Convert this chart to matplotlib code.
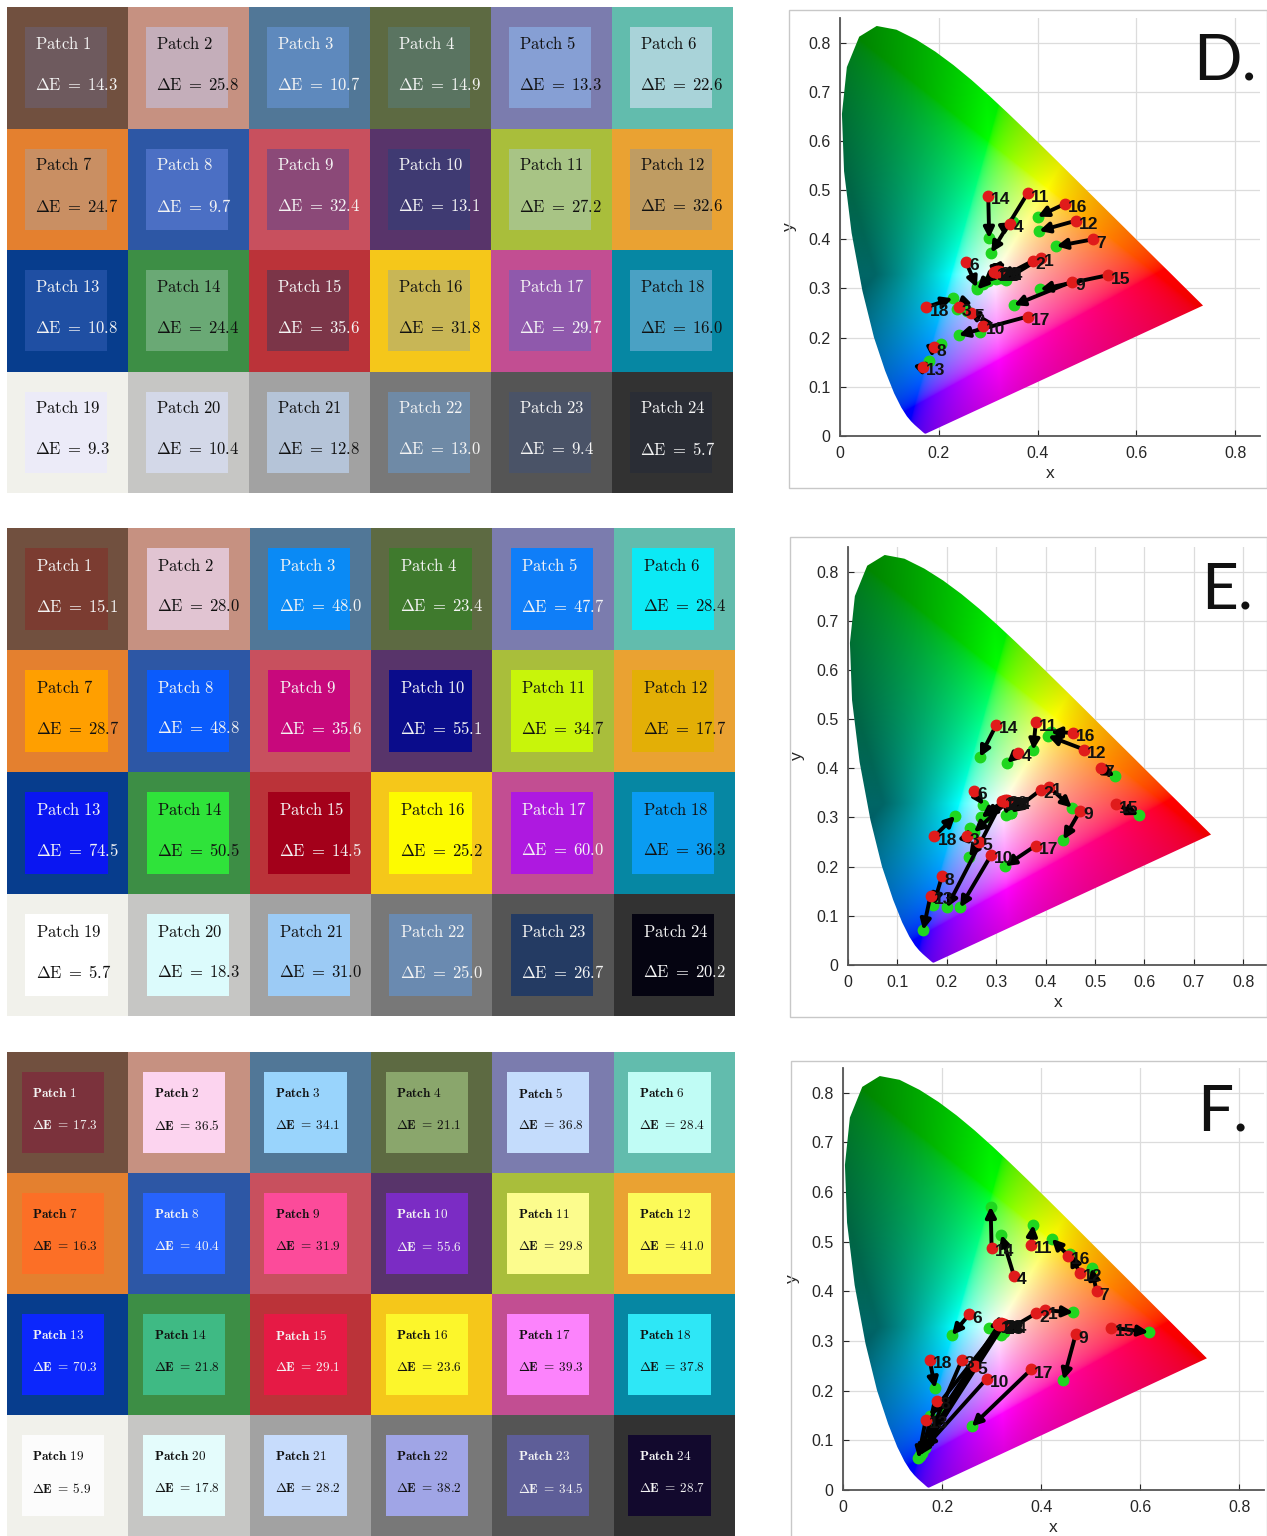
import numpy as np
import matplotlib
matplotlib.use('Agg')
import matplotlib.pyplot as plt
from matplotlib.patches import Rectangle, Polygon
from matplotlib.ticker import FuncFormatter

plt.rcParams['font.family'] = ['Liberation Sans', 'DejaVu Sans']
plt.rcParams['mathtext.fontset'] = 'cm'

# --- patch data -------------------------------------------------------------
patch_ids = list(range(1, 25))

outer_colors = ['#71503f', '#c69181', '#517797', '#5d6a42', '#7b7cae', '#62bcad',
                '#e4802f', '#2d57a5', '#c8505e', '#58346a', '#a9be3b', '#eaa232',
                '#073d8d', '#3d8e45', '#bb3339', '#f5c71a', '#c24e92', '#0687a3',
                '#f1f1eb', '#c6c6c4', '#a2a2a2', '#787878', '#555555', '#323232']

inner_D = ['#6e5a5e', '#c4aeba', '#5e89bd', '#5a7461', '#869fd4', '#a9d3d9',
           '#c98f63', '#4b6fc4', '#8b4978', '#3f3a72', '#a8c485', '#bf9c62',
           '#1f4fa3', '#6aa975', '#7b3548', '#c8b656', '#8f59ac', '#4aa1c4',
           '#ecebf8', '#d3d8e8', '#b5c4d8', '#6f8aa6', '#4a5367', '#2a2d35']
inner_E = ['#7b3c31', '#e1c4d2', '#0a8af5', '#3f7a2d', '#0f7ef8', '#0ce9f5',
           '#ff9f00', '#0a5bfc', '#c8087c', '#0a0c8b', '#c8f50a', '#e3af06',
           '#0a16f2', '#2fe33a', '#a3001a', '#fdfb00', '#ae19e0', '#0a9cf2',
           '#ffffff', '#dcfbfc', '#9ccbf5', '#6a8ab0', '#243b63', '#050411']
inner_F = ['#7b323c', '#fcd4ef', '#99d4fc', '#8aa66c', '#c4dcfc', '#c0fcf5',
           '#fc6f26', '#2763fc', '#fc4b9a', '#7b2cc4', '#fcfc8d', '#fcfa59',
           '#0c27fc', '#3fba84', '#e61a45', '#fcf62b', '#fc83fc', '#2ee7f6',
           '#fcfcfc', '#e4fcfc', '#c7dcfc', '#a0a5e6', '#5e5e98', '#12092d']

de_D = [14.3, 25.8, 10.7, 14.9, 13.3, 22.6, 24.7, 9.7, 32.4, 13.1, 27.2, 32.6,
        10.8, 24.4, 35.6, 31.8, 29.7, 16.0, 9.3, 10.4, 12.8, 13.0, 9.4, 5.7]
de_E = [15.1, 28.0, 48.0, 23.4, 47.7, 28.4, 28.7, 48.8, 35.6, 55.1, 34.7, 17.7,
        74.5, 50.5, 14.5, 25.2, 60.0, 36.3, 5.7, 18.3, 31.0, 25.0, 26.7, 20.2]
de_F = [17.3, 36.5, 34.1, 21.1, 36.8, 28.4, 16.3, 40.4, 31.9, 55.6, 29.8, 41.0,
        70.3, 21.8, 29.1, 23.6, 39.3, 37.8, 5.9, 17.8, 28.2, 38.2, 34.5, 28.7]

txt_D = 'wkwwkkkwwwkkwkwkwkkkkwww'
txt_E = 'wkwwwkkwwwkkwkwkwkkkkwww'
txt_F = 'wkkkkkkwkwkkwkwkkkkkkkww'

# --- chromaticity data ------------------------------------------------------
ref_x = [0.407, 0.390, 0.240, 0.345, 0.266, 0.255, 0.512, 0.190, 0.470, 0.290, 0.380, 0.478,
         0.167, 0.300, 0.542, 0.455, 0.380, 0.175, 0.312, 0.318, 0.322, 0.315, 0.320, 0.325]
ref_y = [0.362, 0.356, 0.262, 0.432, 0.250, 0.354, 0.400, 0.180, 0.314, 0.224, 0.494, 0.438,
         0.141, 0.488, 0.327, 0.472, 0.243, 0.262, 0.334, 0.336, 0.335, 0.333, 0.332, 0.334]

D_x = [0.335, 0.325, 0.236, 0.350, 0.258, 0.277, 0.438, 0.205, 0.352, 0.283, 0.306, 0.403,
       0.180, 0.302, 0.405, 0.400, 0.240, 0.228, 0.278, 0.290, 0.300, 0.315, 0.320, 0.330]
D_y = [0.318, 0.322, 0.258, 0.435, 0.254, 0.302, 0.386, 0.188, 0.266, 0.212, 0.373, 0.417,
       0.153, 0.402, 0.298, 0.446, 0.205, 0.280, 0.298, 0.310, 0.316, 0.320, 0.322, 0.325]

E_x = [0.453, 0.330, 0.246, 0.322, 0.245, 0.274, 0.540, 0.173, 0.436, 0.227, 0.375, 0.405,
       0.152, 0.267, 0.588, 0.410, 0.318, 0.217, 0.200, 0.270, 0.320, 0.280, 0.330, 0.255]
E_y = [0.320, 0.310, 0.278, 0.411, 0.220, 0.325, 0.384, 0.122, 0.255, 0.117, 0.437, 0.466,
       0.071, 0.423, 0.305, 0.474, 0.201, 0.303, 0.117, 0.300, 0.305, 0.300, 0.310, 0.270]

F_x = [0.465, 0.325, 0.170, 0.320, 0.160, 0.220, 0.502, 0.155, 0.445, 0.165, 0.384, 0.459,
       0.152, 0.298, 0.617, 0.4215, 0.260, 0.186, 0.294, 0.320, 0.175, 0.200, 0.180, 0.155]
F_y = [0.358, 0.318, 0.100, 0.514, 0.075, 0.312, 0.447, 0.068, 0.222, 0.085, 0.534, 0.475,
       0.064, 0.571, 0.318, 0.506, 0.128, 0.205, 0.327, 0.313, 0.150, 0.160, 0.120, 0.070]

# CIE 1931 spectral locus, 380-700 nm in 5 nm steps
locus_x = [0.1741, 0.1740, 0.1738, 0.1736, 0.1733, 0.1730, 0.1726, 0.1721, 0.1714, 0.1703,
           0.1689, 0.1669, 0.1644, 0.1611, 0.1566, 0.1510, 0.1440, 0.1355, 0.1241, 0.1096,
           0.0913, 0.0687, 0.0454, 0.0235, 0.0082, 0.0039, 0.0139, 0.0389, 0.0743, 0.1142,
           0.1547, 0.1929, 0.2296, 0.2658, 0.3016, 0.3373, 0.3731, 0.4087, 0.4441, 0.4788,
           0.5125, 0.5448, 0.5752, 0.6029, 0.6270, 0.6482, 0.6658, 0.6801, 0.6915, 0.7006,
           0.7079, 0.7140, 0.7190, 0.7230, 0.7260, 0.7283, 0.7300, 0.7311, 0.7320, 0.7327,
           0.7334, 0.7340, 0.7344, 0.7346, 0.7347]
locus_y = [0.0050, 0.0050, 0.0049, 0.0049, 0.0048, 0.0048, 0.0048, 0.0048, 0.0051, 0.0058,
           0.0069, 0.0086, 0.0109, 0.0138, 0.0177, 0.0227, 0.0297, 0.0399, 0.0578, 0.0868,
           0.1327, 0.2007, 0.2950, 0.4127, 0.5384, 0.6548, 0.7502, 0.8120, 0.8338, 0.8262,
           0.8059, 0.7816, 0.7543, 0.7243, 0.6923, 0.6589, 0.6245, 0.5896, 0.5547, 0.5202,
           0.4866, 0.4544, 0.4242, 0.3965, 0.3725, 0.3514, 0.3340, 0.3197, 0.3083, 0.2993,
           0.2920, 0.2859, 0.2809, 0.2770, 0.2740, 0.2717, 0.2700, 0.2689, 0.2680, 0.2673,
           0.2666, 0.2660, 0.2656, 0.2654, 0.2653]

W, H = 1267, 1536
fig = plt.figure(figsize=(W / 100, H / 100), dpi=100)


def frac(x0, y0, x1, y1):
    return [x0 / W, 1 - y1 / H, (x1 - x0) / W, (y1 - y0) / H]


def draw_grid(rect, inner, de, tcol, box, ty, fs, bold):
    ax = fig.add_axes(rect)
    ax.set_xlim(0, 6)
    ax.set_ylim(4, 0)
    ax.axis('off')
    x0, x1, y0, y1 = box
    for k, pid in enumerate(patch_ids):
        r, c = divmod(k, 6)
        ax.add_patch(Rectangle((c, r), 1, 1, facecolor=outer_colors[k], lw=0))
        ax.add_patch(Rectangle((c + x0, r + y0), x1 - x0, y1 - y0, facecolor=inner[k], lw=0))
        col = '#f4f4f4' if tcol[k] == 'w' else '#111111'
        if bold:
            s1 = r'$\mathbf{Patch\ %d}$' % pid
            s2 = r'$\mathbf{\Delta E\;=\;%.1f}$' % de[k]
        else:
            s1 = r'$\mathrm{Patch\ %d}$' % pid
            s2 = r'$\Delta\mathrm{E}\;=\;%.1f$' % de[k]
        tx = c + x0 + 0.09
        ax.text(tx, r + ty[0], s1, color=col, fontsize=fs, ha='left', va='center')
        ax.text(tx, r + ty[1], s2, color=col, fontsize=fs, ha='left', va='center')


draw_grid(frac(7, 7, 733, 493), inner_D, de_D, txt_D, (0.145, 0.825, 0.165, 0.835), (0.30, 0.64), 12, False)
draw_grid(frac(7, 528, 735, 1016), inner_E, de_E, txt_E, (0.15, 0.83, 0.165, 0.84), (0.31, 0.64), 12, False)
draw_grid(frac(7, 1052, 735, 1536), inner_F, de_F, txt_F, (0.12, 0.80, 0.165, 0.835), (0.345, 0.61), 9.5, True)

M = np.array([[3.2406, -1.5372, -0.4986],
              [-0.9689, 1.8758, 0.0415],
              [0.0557, -0.2040, 1.0570]])


def chroma(ax):
    n = 500
    gx, gy = np.meshgrid(np.linspace(0, 0.85, n), np.linspace(0, 0.85, n))
    yy = np.maximum(gy, 1e-3)
    xyz = np.stack([gx / yy, np.ones_like(gx), np.clip((1 - gx - gy) / yy, 0, None)], -1)
    rgb = xyz @ M.T
    mx = np.maximum(rgb.max(-1, keepdims=True), 1e-6)
    neg = np.clip(-rgb.min(-1, keepdims=True), 0, None) / mx
    lin = np.clip(rgb, 0, None) / mx
    srgb = np.where(lin <= 0.0031308, 12.92 * lin, 1.055 * lin ** (1 / 2.4) - 0.055)
    srgb = np.clip(srgb * (1 - 0.6 * np.clip(neg, 0, 1)), 0, 1)
    im = ax.imshow(srgb, origin='lower', extent=(0, 0.85, 0, 0.85),
                   interpolation='bilinear', zorder=1)
    poly = Polygon(np.column_stack([locus_x, locus_y]), closed=True,
                   facecolor='none', edgecolor='none', transform=ax.transData)
    ax.add_patch(poly)
    im.set_clip_path(poly)


def draw_cie(px, letter, gx, gy, xstep, box):
    ax = fig.add_axes(frac(*px))
    fig.patches.append(Rectangle((box[0] / W, 1 - box[3] / H), (box[2] - box[0]) / W,
                                 (box[3] - box[1]) / H, transform=fig.transFigure,
                                 fill=False, edgecolor='#c8c8c8', lw=1))
    chroma(ax)
    ax.set_aspect('auto')
    ax.set_xlim(0, 0.85)
    ax.set_ylim(0, 0.85)
    ax.set_xticks(np.arange(0, 0.81, xstep))
    ax.set_yticks(np.arange(0, 0.81, 0.1))
    fmt = FuncFormatter(lambda v, p: '0' if abs(v) < 1e-9 else '%.1f' % v)
    ax.xaxis.set_major_formatter(fmt)
    ax.yaxis.set_major_formatter(fmt)
    ax.set_axisbelow(True)
    ax.grid(True, color='#dcdcdc', lw=0.9, zorder=0)
    for s in ['top', 'right']:
        ax.spines[s].set_visible(False)
    for s in ['left', 'bottom']:
        ax.spines[s].set_color('#555555')
        ax.spines[s].set_linewidth(1.3)
    ax.tick_params(direction='in', length=4, labelsize=11.5, colors='#262626', pad=7)
    ax.set_xlabel('x', fontsize=12.5, color='#262626', labelpad=4)
    ax.set_ylabel('y', fontsize=12.5, color='#262626', labelpad=8)

    ax.plot(gx, gy, 'o', color='#1fd61f', ms=7.5, mec='#1fd61f', zorder=2, ls='none')
    for k in range(len(ref_x)):
        ax.annotate('', xy=(gx[k], gy[k]), xytext=(ref_x[k], ref_y[k]),
                    arrowprops=dict(arrowstyle='-|>', color='k', lw=2.8,
                                    mutation_scale=15, shrinkA=0, shrinkB=0), zorder=3)
    ax.plot(ref_x, ref_y, 'o', color='#e01b1b', ms=7.5, mec='#e01b1b', zorder=4, ls='none')
    for k, pid in enumerate(patch_ids):
        ax.text(ref_x[k] + 0.006, ref_y[k] - 0.008, str(pid), fontsize=12.5,
                fontweight='bold', color='#111111', ha='left', va='center', zorder=5)
    ax.text(0.84, 0.895, letter, transform=ax.transAxes, fontsize=46,
            family=['Lato', 'DejaVu Sans'], color='#111111', ha='left', va='center')


draw_cie((840, 18, 1260, 436), 'D.', D_x, D_y, 0.2, (789, 10, 1267, 488))
draw_cie((848, 547, 1268, 965), 'E.', E_x, E_y, 0.1, (790, 537, 1267, 1017))
draw_cie((843, 1068, 1264, 1490), 'F.', F_x, F_y, 0.2, (791, 1061, 1267, 1540))

fig.savefig('out.png', dpi=100)
